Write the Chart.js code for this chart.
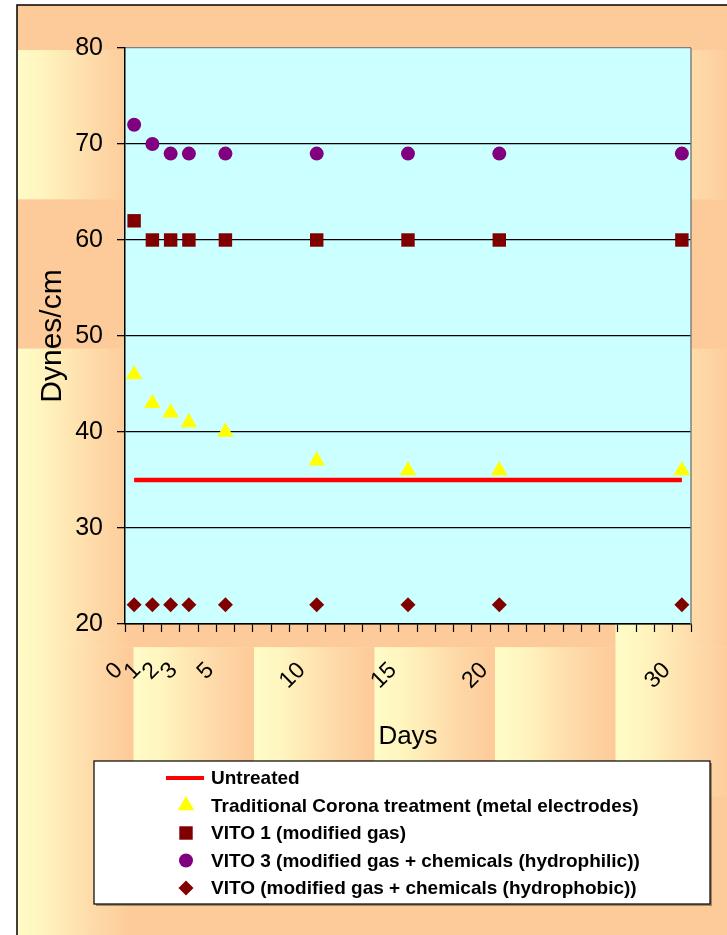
<!DOCTYPE html>
<html>
<head>
<meta charset="utf-8">
<script src="https://cdn.jsdelivr.net/npm/chart.js@4.4.1/dist/chart.umd.min.js"></script>
<style>
  html, body { margin: 0; padding: 0; background: #fff; }
  #wrap { width: 727px; height: 935px; }
</style>
</head>
<body>
<div id="wrap"><canvas id="dyneChart" width="727" height="935"></canvas></div>
<script>
// ===== Surface energy (dynes/cm) over days after treatment =====

const days = [0, 1, 2, 3, 5, 10, 15, 20, 30];
const untreated = [35, 35, 35, 35, 35, 35, 35, 35, 35];
const corona = [46, 43, 42, 41, 40, 37, 36, 36, 36];
const vito1 = [62, 60, 60, 60, 60, 60, 60, 60, 60];
const vito3 = [72, 70, 69, 69, 69, 69, 69, 69, 69];
const vitoPhobic = [22, 22, 22, 22, 22, 22, 22, 22, 22];
const yTicks = [20, 30, 40, 50, 60, 70, 80];
const seriesNames = [
  'Untreated',
  'Traditional Corona treatment (metal electrodes)',
  'VITO 1 (modified gas)',
  'VITO 3 (modified gas + chemicals (hydrophilic))',
  'VITO (modified gas + chemicals (hydrophobic))'
];

const SANS = '"Liberation Sans", Arial, sans-serif';

// background texture tiles: 1 = light gradient, 0 = plain orange
const tilePattern = [
  [0, 0, 0, 0, 0, 0],
  [1, 1, 1, 1, 1, 1],
  [0, 0, 0, 0, 0, 0],
  [1, 1, 1, 1, 1, 1],
  [1, 0, 0, 0, 0, 1],
  [1, 1, 1, 1, 1, 1],
  [1, 0, 0, 0, 0, 0]
];

function pts(values) {
  return days.map((d, i) => ({ x: d, y: values[i] }));
}

const backgroundPlugin = {
  id: 'textureBg',
  beforeDraw(chart) {
    const { ctx, width, height, chartArea: a } = chart;
    ctx.save();
    ctx.fillStyle = '#fff';
    ctx.fillRect(0, 0, width, height);
    const fx = 17, fy = 5;
    ctx.beginPath();
    ctx.rect(fx, fy, width, height);
    ctx.clip();
    const tw = 120.5, th = 149.3, x0 = 13, y0 = 50 - th;
    tilePattern.forEach((row, r) => {
      row.forEach((kind, c) => {
        const tx = x0 + c * tw, ty = y0 + r * th;
        if (kind) {
          const g = ctx.createLinearGradient(tx, 0, tx + tw, 0);
          g.addColorStop(0, '#fffcc8');
          g.addColorStop(0.25, '#fff4be');
          g.addColorStop(0.7, '#fed8a7');
          g.addColorStop(1, '#fdca98');
          ctx.fillStyle = g;
        } else {
          ctx.fillStyle = '#fdcb99';
        }
        ctx.fillRect(tx, ty, tw + 0.5, th + 0.5);
      });
    });
    ctx.restore();

    // outer frame
    ctx.save();
    ctx.strokeStyle = '#000';
    ctx.lineWidth = 1.5;
    ctx.beginPath();
    ctx.moveTo(fx, height + 2);
    ctx.lineTo(fx, fy);
    ctx.lineTo(width + 2, fy);
    ctx.stroke();

    // plot area fill
    ctx.fillStyle = '#ccffff';
    ctx.fillRect(a.left, a.top, a.right - a.left, a.bottom - a.top);
    ctx.restore();
  },
  beforeDatasetsDraw(chart) {
    const { ctx, chartArea: a } = chart;
    ctx.save();
    ctx.strokeStyle = '#808080';
    ctx.lineWidth = 1.5;
    ctx.beginPath();
    ctx.moveTo(a.right, a.top);
    ctx.lineTo(a.right, a.bottom);
    ctx.stroke();
    ctx.restore();
  }
};

function drawMarker(ctx, style, r, x, y) {
  ctx.beginPath();
  if (style === 'circle') {
    ctx.arc(x, y, r, 0, Math.PI * 2);
  } else if (style === 'rect') {
    const s = Math.SQRT1_2 * r;
    ctx.rect(x - s, y - s, 2 * s, 2 * s);
  } else if (style === 'rectRot') {
    ctx.moveTo(x - r, y);
    ctx.lineTo(x, y - r);
    ctx.lineTo(x + r, y);
    ctx.lineTo(x, y + r);
    ctx.closePath();
  } else if (style === 'triangle') {
    let rad = 0;
    ctx.moveTo(x + Math.sin(rad) * r, y - Math.cos(rad) * r);
    rad += 2 * Math.PI / 3;
    ctx.lineTo(x + Math.sin(rad) * r, y - Math.cos(rad) * r);
    rad += 2 * Math.PI / 3;
    ctx.lineTo(x + Math.sin(rad) * r, y - Math.cos(rad) * r);
    ctx.closePath();
  }
  ctx.fill();
}

const legendPlugin = {
  id: 'boxLegend',
  afterDraw(chart) {
    const { ctx } = chart;
    const xs = chart.scales.x;
    const left = 94, top = xs.bottom + 9, w = 616, h = 143;
    ctx.save();
    ctx.fillStyle = 'rgba(0,0,0,0.35)';
    ctx.fillRect(left + 2, top + 2, w, h);
    ctx.fillStyle = '#fff';
    ctx.fillRect(left, top, w, h);
    ctx.strokeStyle = '#000';
    ctx.lineWidth = 1.2;
    ctx.strokeRect(left, top, w, h);

    ctx.font = 'bold 19px ' + SANS;
    ctx.textBaseline = 'middle';
    ctx.textAlign = 'left';
    chart.data.datasets.forEach((ds, i) => {
      const y = top + 17 + i * 27.5;
      if (ds.showLine) {
        ctx.strokeStyle = ds.borderColor;
        ctx.lineWidth = 4;
        ctx.beginPath();
        ctx.moveTo(left + 72, y);
        ctx.lineTo(left + 110, y);
        ctx.stroke();
      } else {
        ctx.fillStyle = ds.backgroundColor;
        drawMarker(ctx, ds.pointStyle, ds.pointRadius, left + 92, y);
      }
      ctx.fillStyle = '#000';
      ctx.fillText(ds.label, left + 117, y + 1);
    });
    ctx.restore();
  }
};

const ctx = document.getElementById('dyneChart').getContext('2d');

new Chart(ctx, {
  type: 'scatter',
  data: {
    datasets: [
      {
        label: seriesNames[0],
        data: pts(untreated),
        showLine: true,
        borderColor: '#ff0000',
        backgroundColor: '#ff0000',
        borderWidth: 4.5,
        pointRadius: 0,
        pointStyle: 'line'
      },
      {
        label: seriesNames[1],
        data: pts(corona),
        showLine: false,
        pointStyle: 'triangle',
        pointRadius: 9.5,
        backgroundColor: '#ffff00',
        borderWidth: 0
      },
      {
        label: seriesNames[2],
        data: pts(vito1),
        showLine: false,
        pointStyle: 'rect',
        pointRadius: 9.5,
        backgroundColor: '#800000',
        borderWidth: 0
      },
      {
        label: seriesNames[3],
        data: pts(vito3),
        showLine: false,
        pointStyle: 'circle',
        pointRadius: 7,
        backgroundColor: '#800080',
        borderWidth: 0
      },
      {
        label: seriesNames[4],
        data: pts(vitoPhobic),
        showLine: false,
        pointStyle: 'rectRot',
        pointRadius: 7.5,
        backgroundColor: '#800000',
        borderWidth: 0
      }
    ]
  },
  options: {
    responsive: false,
    animation: false,
    layout: {
      padding: { left: 35, top: 48, right: 36, bottom: 183 }
    },
    plugins: {
      legend: { display: false },
      tooltip: { enabled: false }
    },
    scales: {
      x: {
        type: 'linear',
        min: -0.5,
        max: 30.5,
        afterBuildTicks(scale) {
          const t = [];
          for (let v = -0.5; v <= 30.5; v += 0.5) t.push({ value: v });
          scale.ticks = t;
        },
        afterFit(scale) {
          scale.height = 128;
          scale.paddingLeft = 0;
          scale.paddingRight = 0;
        },
        grid: {
          drawOnChartArea: false,
          tickLength: 8,
          tickWidth: 1.2,
          tickColor: c => Number.isInteger(c.tick.value) ? 'rgba(0,0,0,0)' : '#000'
        },
        border: { color: '#000', width: 1.5 },
        ticks: {
          autoSkip: false,
          minRotation: 45,
          maxRotation: 45,
          color: '#000',
          padding: 25,
          labelOffset: -15,
          font: { family: SANS, size: 23 },
          callback: v => days.includes(v) ? String(v) : ''
        },
        title: {
          display: true,
          text: 'Days',
          color: '#000',
          font: { family: SANS, size: 26 },
          padding: { top: 0, bottom: 0 }
        }
      },
      y: {
        min: 20,
        max: 80,
        afterBuildTicks(scale) {
          scale.ticks = yTicks.map(v => ({ value: v }));
        },
        afterFit(scale) { scale.width = 90; },
        grid: {
          color: c => c.tick.value === 80 ? '#808080' : '#000',
          tickColor: '#000',
          lineWidth: 1.3,
          tickLength: 8
        },
        border: { color: '#000', width: 1.5 },
        ticks: {
          color: '#000',
          padding: 14,
          font: { family: SANS, size: 25 }
        },
        title: {
          display: true,
          text: 'Dynes/cm',
          color: '#000',
          font: { family: SANS, size: 30 },
          padding: { top: 0, bottom: 0 }
        }
      }
    }
  },
  plugins: [backgroundPlugin, legendPlugin]
});
</script>
</body>
</html>
